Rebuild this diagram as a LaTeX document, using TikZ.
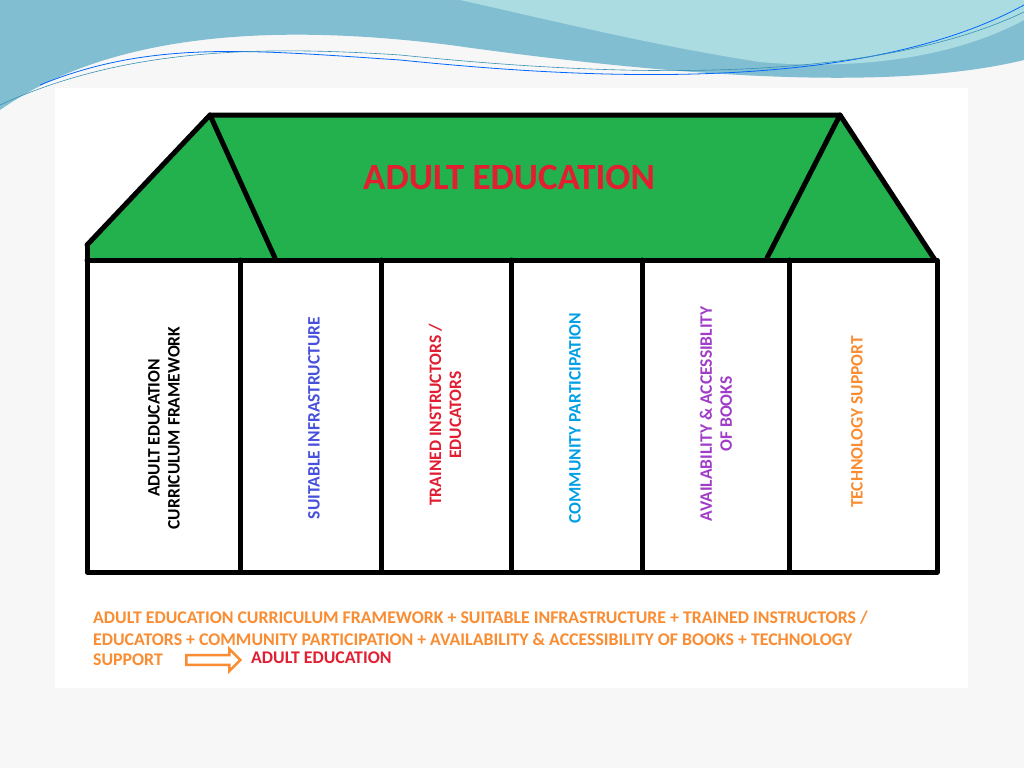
\documentclass[tikz,border=0pt]{standalone}
\usepackage{fontspec}
\setmainfont{Carlito}
\usetikzlibrary{shapes.arrows}
\definecolor{roofgreen}{RGB}{34,177,76}
\definecolor{wavea}{RGB}{130,190,210}
\definecolor{waveb}{RGB}{170,220,225}
\definecolor{tblue}{RGB}{70,80,220}
\definecolor{tred}{RGB}{225,30,50}
\definecolor{tcyan}{RGB}{0,160,230}
\definecolor{tpurple}{RGB}{160,60,200}
\definecolor{torange}{RGB}{250,140,50}
\tikzset{
  wall/.style={line width=5pt, line cap=round, line join=round},
  pillar/.style={rotate=90, align=center, font=\bfseries\fontsize{17.5}{20}\selectfont},
  note/.style={anchor=west, text=torange, font=\bfseries\fontsize{17.8}{18}\selectfont, inner sep=0pt}
}
\begin{document}
\begin{tikzpicture}[x=1pt, y=-1pt]
	\useasboundingbox (0,0) rectangle (1024,768);
	\fill[gray!6] (0,0) rectangle (1024,768);
	% waves on top
	\fill[wavea] (0,0) -- (1024,0) -- (1024,60) .. controls (900,90) and (700,80) .. (450,45) .. controls (250,20) and (100,40) .. (0,110) -- cycle;
	\fill[waveb] (460,0) -- (1024,0) -- (1024,20) .. controls (950,60) and (850,70) .. (760,62) .. controls (650,45) and (550,20) .. (460,0) -- cycle;
	\draw[blue!60!cyan, line width=.8pt] (40,85) .. controls (150,40) and (250,50) .. (400,60) .. controls (550,75) and (850,100) .. (1024,5);
	\draw[cyan!70!black, line width=.6pt] (0,105) .. controls (120,50) and (250,45) .. (400,55) .. controls (550,70) and (850,95) .. (1024,12);
	\fill[white] (55,88) rectangle (968,688);
	% roof
	\fill[roofgreen] (210,115) -- (840,115) -- (935,260) -- (87,260) -- (87,245) -- cycle;
	\draw[wall] (87,245) -- (210,115) -- (840,115) -- (935,260);
	\draw[wall] (210,115) -- (275,258);
	\draw[wall] (840,115) -- (767,258);
	\node[text=tred, font=\bfseries\fontsize{37}{38}\selectfont] (title) at (509,178) {ADULT EDUCATION};
	% pillars
	\draw[wall] (87,245) -- (87,572) -- (937,572) -- (937,260) -- (87,260);
	\foreach \x in {240,381,511,642,789}
		\draw[wall] (\x,260) -- (\x,572);
	\node[pillar] (p1) at (164,428) {ADULT EDUCATION\\CURRICULUM FRAMEWORK};
	\node[pillar, text=tblue] (p2) at (314,418) {SUITABLE INFRASTRUCTURE};
	\node[pillar, text=tred] (p3) at (445,415) {TRAINED INSTRUCTORS /\\EDUCATORS};
	\node[pillar, text=tcyan] (p4) at (575,418) {COMMUNITY PARTICIPATION};
	\node[pillar, text=tpurple] (p5) at (716,414) {AVAILABILITY \& ACCESSIBLITY\\OF BOOKS};
	\node[pillar, text=torange] (p6) at (857,422) {TECHNOLOGY SUPPORT};
	% equation
	\node[note] (l1) at (93,618) {ADULT EDUCATION CURRICULUM FRAMEWORK + SUITABLE INFRASTRUCTURE + TRAINED INSTRUCTORS /};
	\node[note] (l2) at (93,639) {EDUCATORS + COMMUNITY PARTICIPATION + AVAILABILITY \& ACCESSIBILITY OF BOOKS + TECHNOLOGY};
	\node[note] (l3) at (93,660) {SUPPORT};
	\node[single arrow, draw=torange, line width=2.5pt, fill=white, minimum height=54pt, minimum width=22pt, single arrow head extend=4pt, inner sep=2pt] (arr) at (211,660) {};
	\node[note, text=tred] (res) at (251,658) {ADULT EDUCATION};
\end{tikzpicture}
\end{document}
